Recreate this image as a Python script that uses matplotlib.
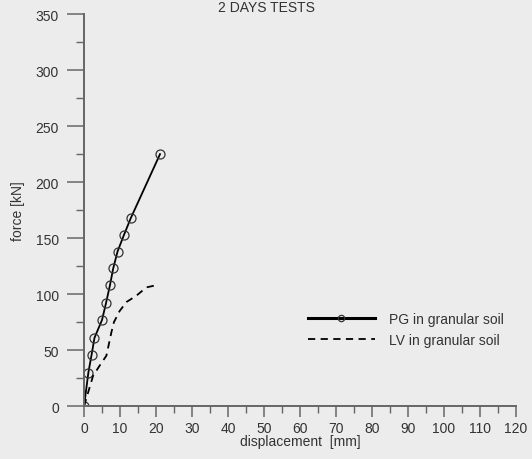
import matplotlib
matplotlib.use("Agg")
import matplotlib.pyplot as plt
from matplotlib.ticker import MultipleLocator

plt.rcParams['font.family'] = ['Liberation Sans', 'DejaVu Sans']

# PG in granular soil (solid line, circle markers)
pg_disp = [0.0, 1.2, 2.1, 2.9, 5.0, 6.1, 7.2, 8.1, 9.3, 11.1, 13.0, 21.1]
pg_force = [0, 30, 46, 61, 77, 92, 108, 123, 138, 153, 168, 225]

# LV in granular soil (dashed line)
lv_disp = [0.0, 2.5, 4.3, 6.2, 6.8, 7.6, 8.3, 9.9, 11.8, 14.5, 17.3, 20.1]
lv_force = [0, 27, 36, 45, 54, 66, 75, 85, 93, 98.5, 106, 108]

bg = '#ececec'
axcol = '#666666'
txtcol = '#333333'

fig = plt.figure(figsize=(5.32, 4.6), dpi=100, facecolor=bg)
ax = fig.add_axes([0.158, 0.115, 0.812, 0.852], facecolor=bg)

ax.plot(pg_disp, pg_force, '-', color='black', lw=1.3, marker='o', ms=6.5,
        mfc='none', mec='#333333', mew=0.9, label='PG in granular soil')
ax.plot(lv_disp, lv_force, '--', color='black', lw=1.3, dashes=(4, 3),
        label='LV in granular soil')

ax.set_xlim(0, 120)
ax.set_ylim(0, 350)
ax.xaxis.set_major_locator(MultipleLocator(10))
ax.xaxis.set_minor_locator(MultipleLocator(5))
ax.yaxis.set_major_locator(MultipleLocator(50))
ax.yaxis.set_minor_locator(MultipleLocator(25))

for s in ['top', 'right']:
    ax.spines[s].set_visible(False)
for s in ['left', 'bottom']:
    ax.spines[s].set_color(axcol)
    ax.spines[s].set_linewidth(1.4)

ax.tick_params(which='major', direction='out', width=1.1,
               color=axcol, labelcolor=txtcol, labelsize=10)
ax.tick_params(axis='y', which='major', length=12, pad=6)
ax.tick_params(axis='x', which='major', length=8, pad=3)
ax.tick_params(which='minor', direction='out', length=5, width=1.0,
               color=axcol)
ax.tick_params(axis='y', which='minor', length=6)

ax.set_xlabel('displacement  [mm]', fontsize=10, color=txtcol, labelpad=-1)
ax.set_ylabel('force [kN]', fontsize=10, color=txtcol, labelpad=8)

leg = ax.legend(loc='lower right', bbox_to_anchor=(1.0, 0.12), frameon=False,
                fontsize=10, handlelength=4.8, numpoints=1, markerscale=0.7,
                labelspacing=0.45, handletextpad=1.0)
for t in leg.get_texts():
    t.set_color(txtcol)
leg.legend_handles[0].set_linewidth(2.2)

fig.text(0.5, 0.998, '2 DAYS TESTS', ha='center', va='top', fontsize=10,
         color=txtcol)

fig.savefig('out.png', dpi=100, facecolor=bg)
